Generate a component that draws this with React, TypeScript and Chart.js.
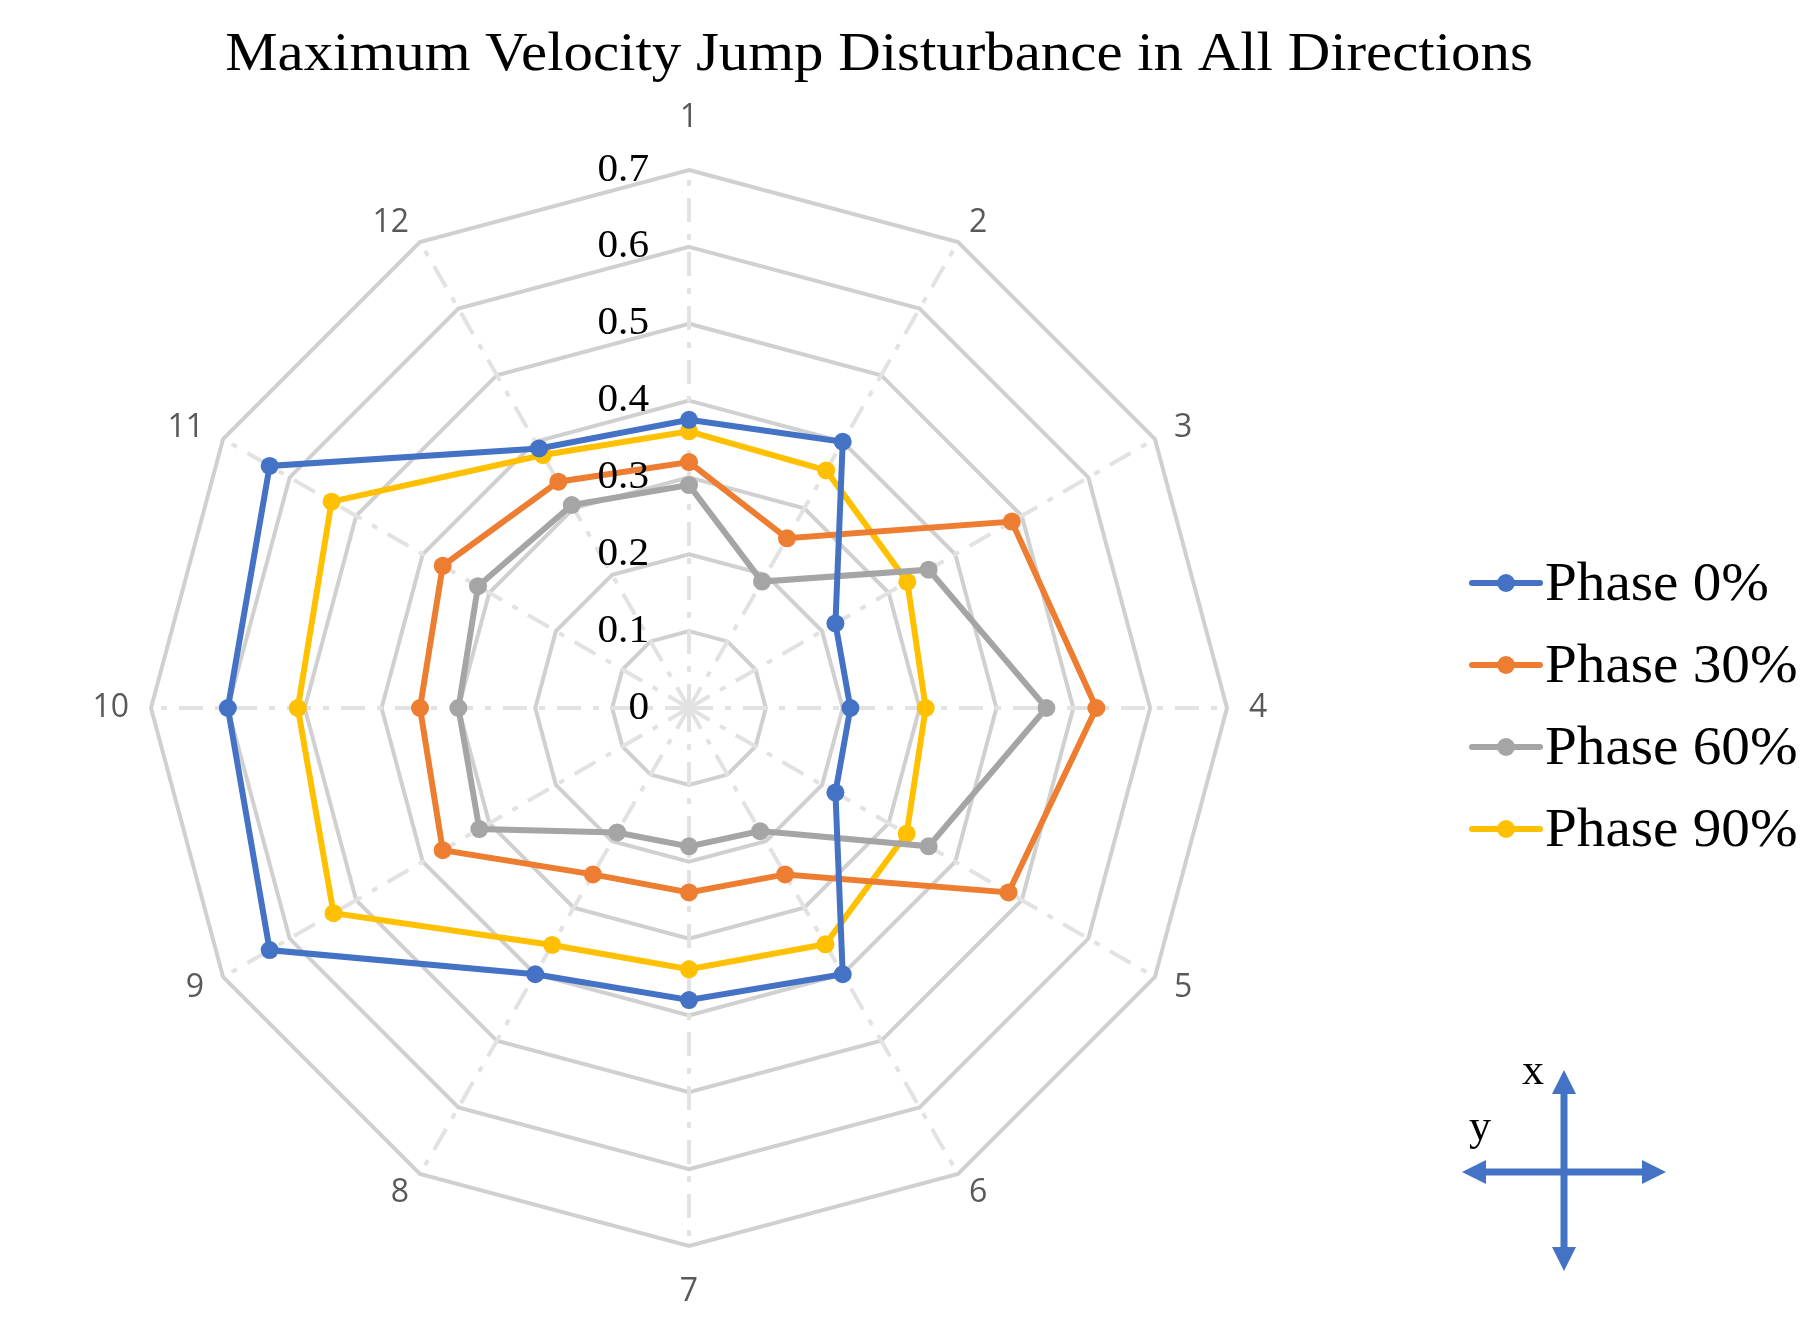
import { useEffect, useRef } from "react";
import { Chart, registerables } from "chart.js";

Chart.register(...registerables);

const directions = ["1", "2", "3", "4", "5", "6", "7", "8", "9", "10", "11", "12"];
const phase0 = [0.375, 0.4, 0.22, 0.21, 0.22, 0.4, 0.38, 0.4, 0.63, 0.6, 0.63, 0.39];
const phase30 = [0.32, 0.255, 0.485, 0.53, 0.48, 0.25, 0.24, 0.25, 0.37, 0.35, 0.37, 0.34];
const phase60 = [0.29, 0.19, 0.36, 0.465, 0.36, 0.185, 0.18, 0.187, 0.315, 0.3, 0.317, 0.305];
const phase90 = [0.36, 0.357, 0.328, 0.308, 0.327, 0.355, 0.34, 0.356, 0.534, 0.509, 0.537, 0.38];
const tickValues = [0, 0.1, 0.2, 0.3, 0.4, 0.5, 0.6, 0.7];
const tickLabels = ["0", "0.1", "0.2", "0.3", "0.4", "0.5", "0.6", "0.7"];

const seriesNames = ["Phase 0%", "Phase 30%", "Phase 60%", "Phase 90%"];
const seriesColors = ["#4472c4", "#ed7d31", "#a5a5a5", "#ffc000"];

const TITLE = "Maximum Velocity Jump Disturbance in All Directions";
const SERIF = "'Liberation Serif', 'Times New Roman', serif";

const drawArrowHead = (
  ctx: CanvasRenderingContext2D,
  x: number,
  y: number,
  dx: number,
  dy: number,
) => {
  const len = 24;
  const half = 12;
  ctx.beginPath();
  ctx.moveTo(x, y);
  ctx.lineTo(x - dx * len - dy * half, y - dy * len + dx * half);
  ctx.lineTo(x - dx * len + dy * half, y - dy * len - dx * half);
  ctx.closePath();
  ctx.fill();
};

// serif text a little wider than Liberation Serif, like the original's Computer Modern
const wideText = (
  ctx: CanvasRenderingContext2D,
  text: string,
  x: number,
  y: number,
  stretch: number,
) => {
  ctx.save();
  ctx.translate(x, y);
  ctx.scale(stretch, 1);
  ctx.fillText(text, 0, 0);
  ctx.restore();
};

const overlay = {
  id: "overlay",
  afterDatasetsDraw(chart: any) {
    const ctx: CanvasRenderingContext2D = chart.ctx;
    const scale = chart.scales.r;
    ctx.save();
    ctx.fillStyle = "#000";
    ctx.font = `40px ${SERIF}`;
    ctx.textAlign = "right";
    ctx.textBaseline = "middle";
    tickValues.forEach((v, i) => {
      const y = scale.yCenter - scale.getDistanceFromCenterForValue(v);
      wideText(ctx, tickLabels[i], scale.xCenter - 40, y, 1.03);
    });
    ctx.restore();
  },
  afterDraw(chart: any) {
    const ctx: CanvasRenderingContext2D = chart.ctx;
    const scale = chart.scales.r;
    ctx.save();

    // title
    ctx.fillStyle = "#000";
    ctx.font = `55px ${SERIF}`;
    ctx.textAlign = "center";
    ctx.textBaseline = "alphabetic";
    wideText(ctx, TITLE, 879, 70, 1.07);

    // point labels
    ctx.fillStyle = "#595959";
    ctx.font = "32px 'Open Sans', 'Noto Sans', sans-serif";
    const R = scale.drawingArea;
    directions.forEach((label, i) => {
      const a = scale.getIndexAngle(i) - Math.PI / 2;
      const c = Math.cos(a);
      const s = Math.sin(a);
      let pad = 22;
      let baseline: CanvasTextBaseline = "middle";
      if (Math.abs(c) < 0.1) {
        if (s < 0) {
          pad = 36;
          baseline = "bottom";
        } else {
          pad = 30;
          baseline = "top";
        }
      }
      const p = scale.getPointPosition(i, R + pad);
      ctx.textAlign = c > 0.1 ? "left" : c < -0.1 ? "right" : "center";
      ctx.textBaseline = baseline;
      ctx.fillText(label, p.x, p.y);
    });

    // legend
    ctx.font = `55px ${SERIF}`;
    ctx.textAlign = "left";
    ctx.textBaseline = "alphabetic";
    chart.data.datasets.forEach((ds: any, i: number) => {
      const base = 600 + i * 82;
      const ly = base - 17;
      ctx.strokeStyle = ds.borderColor;
      ctx.lineWidth = 6;
      ctx.lineCap = "round";
      ctx.beginPath();
      ctx.moveTo(1472, ly);
      ctx.lineTo(1540, ly);
      ctx.stroke();
      ctx.fillStyle = ds.borderColor;
      ctx.beginPath();
      ctx.arc(1506, ly, 9, 0, Math.PI * 2);
      ctx.fill();
      ctx.fillStyle = "#000";
      wideText(ctx, ds.label, 1545, base, 1.04);
    });

    // direction cross
    const cx = 1564;
    const cy = 1172;
    ctx.strokeStyle = "#4472c4";
    ctx.fillStyle = "#4472c4";
    ctx.lineWidth = 7;
    ctx.lineCap = "butt";
    ctx.beginPath();
    ctx.moveTo(cx, 1090);
    ctx.lineTo(cx, 1252);
    ctx.moveTo(1482, cy);
    ctx.lineTo(1646, cy);
    ctx.stroke();
    drawArrowHead(ctx, cx, 1070, 0, -1);
    drawArrowHead(ctx, cx, 1271, 0, 1);
    drawArrowHead(ctx, 1462, cy, -1, 0);
    drawArrowHead(ctx, 1666, cy, 1, 0);
    ctx.fillStyle = "#000";
    ctx.font = `44px ${SERIF}`;
    ctx.textAlign = "center";
    ctx.fillText("x", 1533, 1084);
    ctx.fillText("y", 1480, 1140);

    ctx.restore();
  },
};

const App = () => {
  const canvasRef = useRef<HTMLCanvasElement>(null);

  useEffect(() => {
    document.body.style.margin = "0";
    if (!canvasRef.current) return;
    const ctx = canvasRef.current.getContext("2d");
    if (!ctx) return;
    const series = [phase0, phase30, phase60, phase90];
    const chart = new Chart(ctx, {
      type: "radar",
      data: {
        labels: directions,
        datasets: series.map((values, i) => ({
          label: seriesNames[i],
          data: values,
          borderColor: seriesColors[i],
          backgroundColor: seriesColors[i],
          pointBackgroundColor: seriesColors[i],
          pointBorderWidth: 0,
          pointRadius: 9,
          borderWidth: 6,
          fill: false,
          tension: 0,
        })),
      },
      options: {
        animation: false,
        responsive: true,
        maintainAspectRatio: false,
        devicePixelRatio: 1,
        layout: { padding: { left: 151, right: 583, top: 170, bottom: 71 } },
        plugins: {
          legend: { display: false },
          title: { display: false },
          tooltip: { enabled: false },
        },
        scales: {
          r: {
            min: 0,
            max: 0.7,
            ticks: { display: false, stepSize: 0.1 },
            grid: { color: "#d0d0d0", lineWidth: 4, circular: false },
            angleLines: {
              color: "#e2e2e2",
              lineWidth: 4,
              borderDash: [24, 12, 6, 12],
            },
            pointLabels: { display: false },
          },
        },
      },
      plugins: [overlay],
    });

    return () => {
      chart.destroy();
    };
  }, []);

  return (
    <div style={{ width: 1810, height: 1317, position: "relative" }}>
      <canvas ref={canvasRef}></canvas>
    </div>
  );
};

export default App;
